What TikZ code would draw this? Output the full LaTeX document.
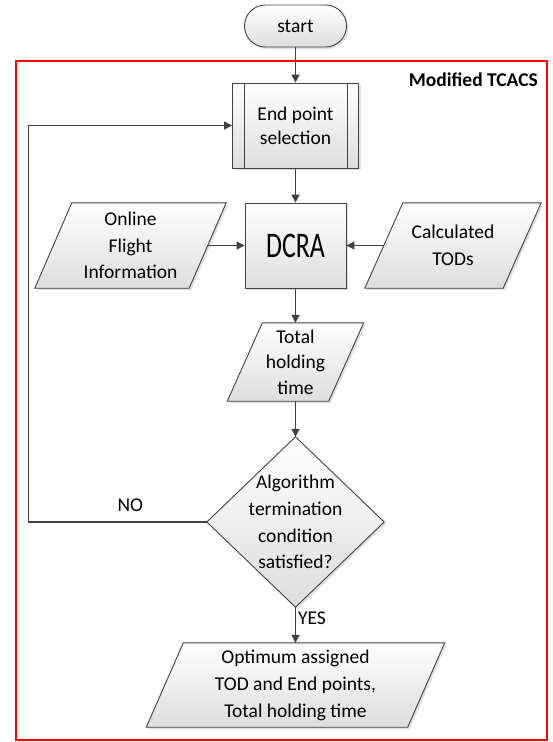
\documentclass[tikz,border=0pt]{standalone}
\usepackage{fontspec}
\setmainfont{Carlito}
\usetikzlibrary{arrows.meta,shadows,calc,backgrounds}
\definecolor{edgecol}{HTML}{404040}
\definecolor{framecol}{HTML}{FF0000}
\begin{document}
\begin{tikzpicture}[x=1pt,y=-1pt,
  font=\fontsize{19.5}{26}\selectfont,
  shapefill/.style={draw=edgecol, line width=0.9pt, top color=white, bottom color=black!13,
    drop shadow={shadow xshift=2pt, shadow yshift=-2pt, opacity=0.3, fill=black!40}},
  txt/.style={inner sep=0pt, align=center, text=black},
  conn/.style={draw=edgecol, line width=1.2pt, -{Triangle[length=8pt,width=8pt]}},
  lbl/.style={text=black, font=\fontsize{19.5}{24}\selectfont}
]
\useasboundingbox (0,0) rectangle (552,742);

% terminal
\node[shapefill, rounded corners=20.9pt, minimum width=102pt, minimum height=42pt, inner sep=0pt] (start) at (295.5,26) {start};

% predefined process
\node[shapefill, minimum width=126pt, minimum height=85pt, inner sep=0pt, align=center,
  font=\fontsize{19.5}{24}\selectfont] (ep) at (295.5,125.5) {End point\\selection};
\draw[edgecol, line width=0.9pt] ($(ep.north west)+(12,0)$) -- ($(ep.south west)+(12,0)$);
\draw[edgecol, line width=0.9pt] ($(ep.north east)-(12,0)$) -- ($(ep.south east)-(12,0)$);

% DCRA
\node[shapefill, minimum width=101pt, minimum height=85pt, inner sep=0pt] (dcra) at (295.5,245.5)
  {\fontsize{36}{36}\selectfont\scalebox{0.72}[1]{DCRA}};

% parallelogram text holders
\node[txt, minimum width=191pt, minimum height=85pt, font=\fontsize{19.5}{26.5}\selectfont] (online) at (130.5,245.5) {Online\\Flight\\Information};
\node[txt, minimum width=176pt, minimum height=85pt, font=\fontsize{19.5}{27}\selectfont] (calc) at (453,245.5) {Calculated\\TODs};
\node[txt, minimum width=136pt, minimum height=78pt, font=\fontsize{19.5}{25.5}\selectfont] (total) at (295.5,362) {Total\\holding\\time};
\node[txt, minimum width=177pt, minimum height=170pt, font=\fontsize{19.5}{26.7}\selectfont] (dec) at (295.5,522) {Algorithm\\termination\\condition\\satisfied?};
\node[txt, minimum width=298pt, minimum height=84pt, font=\fontsize{19.5}{27}\selectfont] (out) at (295.5,685) {Optimum assigned\\TOD and End points,\\Total holding time};

\begin{scope}[on background layer]
  \path[shapefill] (online.south west) -- ($(online.north west)+(37,0)$) -- (online.north east) -- ($(online.south east)-(37,0)$) -- cycle;
  \path[shapefill] (calc.south west) -- ($(calc.north west)+(38,0)$) -- (calc.north east) -- ($(calc.south east)-(38,0)$) -- cycle;
  \path[shapefill] (total.south west) -- ($(total.north west)+(35,0)$) -- (total.north east) -- ($(total.south east)-(35,0)$) -- cycle;
  \path[shapefill] (out.south west) -- ($(out.north west)+(37,0)$) -- (out.north east) -- ($(out.south east)-(37,0)$) -- cycle;
  \path[shapefill] (dec.north) -- (dec.east) -- (dec.south) -- (dec.west) -- cycle;
\end{scope}

% connectors
\draw[conn] (start.south) -- (ep.north);
\draw[conn] (ep.south) -- (dcra.north);
\draw[conn] ($(online.east)-(18.5,0)$) -- (dcra.west);
\draw[conn] ($(calc.west)+(19,0)$) -- (dcra.east);
\draw[conn] (dcra.south) -- (total.north);
\draw[conn] (total.south) -- (dec.north);
\draw[conn] (dec.south) -- node[lbl, pos=0.3, anchor=west, inner sep=2pt] (yes) {YES} (out.north);
\draw[conn] (dec.west) -- node[lbl, pos=0.43, above, yshift=6pt] (no) {NO} ++(-178,0) |- (ep.west);

% frame
\node[draw=framecol, line width=2pt, minimum width=531pt, minimum height=679pt, inner sep=0pt] (frame) at (281.5,400.5) {};
\node[anchor=base east, inner sep=0pt, font=\bfseries\fontsize{19.5}{24}\selectfont] (title) at (538,86) {Modified TCACS};
\end{tikzpicture}
\end{document}
